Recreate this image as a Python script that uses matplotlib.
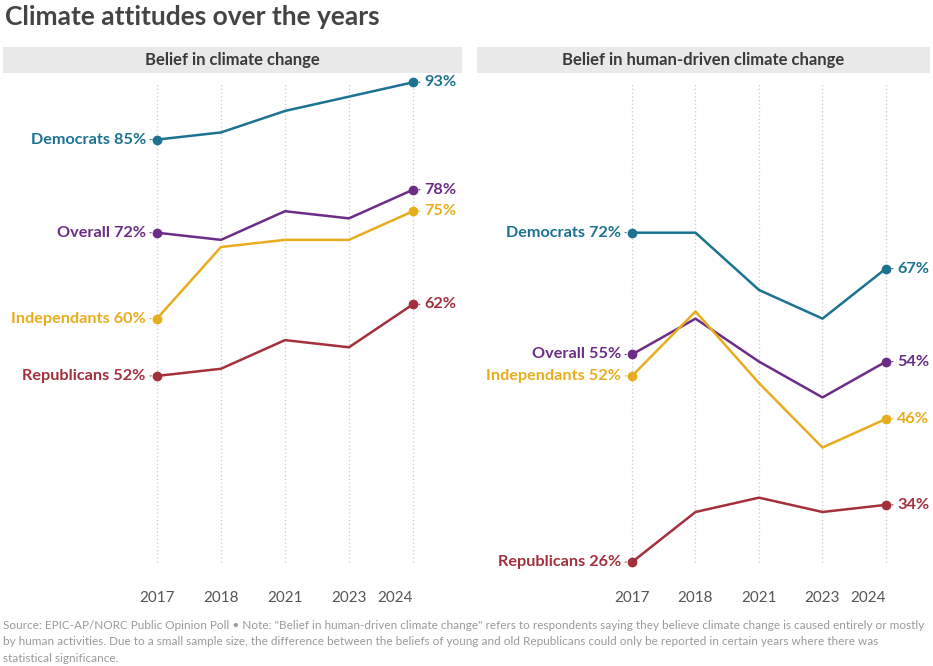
import matplotlib
matplotlib.use('Agg')
import matplotlib.pyplot as plt
from matplotlib.patches import Rectangle

plt.rcParams['font.family'] = ['Lato', 'DejaVu Sans']

years = ['2017', '2018', '2021', '2023', '2024']
groups = ['Democrats', 'Overall', 'Independants', 'Republicans']
colors = ['#1b7391', '#6b2d87', '#e8ad1e', '#a3303b']

# belief in climate change
belief_dem = [85, 86, 89, 91, 93]
belief_all = [72, 71, 75, 74, 78]
belief_ind = [60, 70, 71, 71, 75]
belief_rep = [52, 53, 57, 56, 62]

# belief in human-driven climate change
human_dem = [72, 72, 64, 60, 67]
human_all = [55, 60, 54, 49, 54]
human_ind = [52, 61, 51, 42, 46]
human_rep = [26, 33, 35, 33, 34]

panels = [
    ('Belief in climate change', [belief_dem, belief_all, belief_ind, belief_rep]),
    ('Belief in human-driven climate change', [human_dem, human_all, human_ind, human_rep]),
]

W, H = 933, 666
fig = plt.figure(figsize=(W / 100, H / 100), dpi=100)


def box(x0, y0, x1, y1):
    return [x0 / W, 1 - y1 / H, (x1 - x0) / W, (y1 - y0) / H]


ax1 = fig.add_axes(box(3, 73, 462, 570))
ax2 = fig.add_axes(box(477, 73, 930, 570))
xlims = [(-2.406, 4.766), (-2.441, 4.693)]
bands = [(3, 462), (477, 930)]

allvals = [v for _, ser in panels for s in ser for v in s]
lo, hi = min(allvals), max(allvals)
xs = list(range(len(years)))

for ax, (title, series), xl, (bx0, bx1) in zip([ax1, ax2], panels, xlims, bands):
    ax.set_xlim(*xl)
    ax.set_ylim(24.9, 94.3)
    for s in ax.spines.values():
        s.set_visible(False)
    ax.set_yticks([])
    ax.set_xticks(xs, years)
    ax.tick_params(axis='x', length=0, pad=15, labelsize=11, labelcolor='#555555')
    ax.get_xticklabels()[-1].set_ha('right')
    ax.vlines(xs, lo, hi, colors='#c9c9c9', linestyles=(0, (1, 2)), lw=0.9, zorder=0)

    fig.add_artist(Rectangle((bx0 / W, 1 - 73 / H), (bx1 - bx0) / W, 26 / H,
                             transform=fig.transFigure, color='#e9e9e9', lw=0))
    fig.text((bx0 + bx1) / 2 / W, 1 - 60 / H, title, ha='center', va='center',
             fontsize=12, fontweight='bold', color='#3a3a3a')

    for name, vals, c in zip(groups, series, colors):
        ax.plot(xs, vals, color=c, lw=1.8, zorder=3)
        ax.plot([xs[0], xs[-1]], [vals[0], vals[-1]], 'o', color=c, ms=6, zorder=4)
        ax.annotate(f'{name} {vals[0]}%', xy=(xs[0], vals[0]), xytext=(-8, 0),
                    textcoords='offset points', ha='right', va='center',
                    fontsize=11.7, fontweight='bold', color=c,
                    arrowprops=dict(arrowstyle='-', color=c, lw=0.8,
                                    linestyle=(0, (1, 1.5)), shrinkA=1, shrinkB=3))
        ax.annotate(f'{vals[-1]}%', xy=(xs[-1], vals[-1]), xytext=(8, 0),
                    textcoords='offset points', ha='left', va='center',
                    fontsize=11.7, fontweight='bold', color=c,
                    arrowprops=dict(arrowstyle='-', color=c, lw=0.8,
                                    linestyle=(0, (1, 1.5)), shrinkA=1, shrinkB=3))

fig.text(5 / W, 1 - 17 / H, 'Climate attitudes over the years', ha='left', va='center',
         fontsize=19, fontweight='bold', color='#444444')

note = ('Source: EPIC-AP/NORC Public Opinion Poll \u2022 Note: "Belief in human-driven climate change" '
        'refers to respondents saying they believe climate change is caused entirely or mostly\n'
        'by human activities. Due to a small sample size, the difference between the beliefs of young '
        'and old Republicans could only be reported in certain years where there was\n'
        'statistical significance.')
fig.text(3 / W, 1 - 620 / H, note, ha='left', va='top', fontsize=8.45, color='#9a9a9a',
         linespacing=1.6)

fig.savefig('out.png', dpi=100)
